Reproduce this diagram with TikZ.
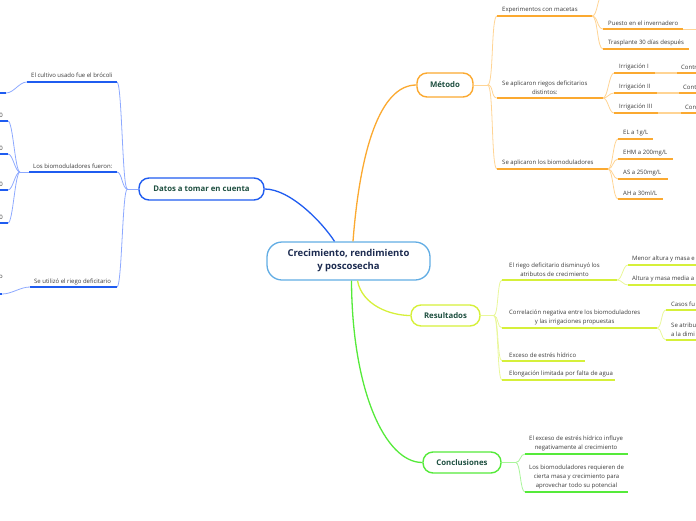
\documentclass[tikz,border=0pt]{standalone}
\usepackage{fontspec}
\setmainfont{Open Sans}
\usetikzlibrary{calc,positioning}
\definecolor{centroline}{HTML}{62ADE4}
\definecolor{centrotext}{HTML}{1C2B50}
\definecolor{topictext}{HTML}{1E4F40}
\definecolor{leaftext}{HTML}{3A3A3A}
\definecolor{datosdark}{HTML}{1F5CF0}
\definecolor{datoslight}{HTML}{8DA9FF}
\definecolor{metododark}{HTML}{FBA930}
\definecolor{metodolight}{HTML}{FFD494}
\definecolor{resdark}{HTML}{D6F03A}
\definecolor{reslight}{HTML}{E9F79A}
\definecolor{concdark}{HTML}{55EA3A}
\definecolor{conclight}{HTML}{A9F59A}

\begin{document}
\begin{tikzpicture}[x=1pt,y=-1pt,
    topic/.style={draw,line width=1.4pt,rounded corners=10pt,fill=white,text=topictext,
      font=\fontsize{7.8}{10}\selectfont\bfseries,inner sep=0pt},
    leaf/.style={anchor=south west,inner sep=0pt,text=leaftext,align=center,
      font=\fontsize{6}{9}\selectfont,yshift=-1.5pt},
    ul/.style={line width=1.6pt},
    cn/.style={line width=0.8pt},
    curv/.style={to path={.. controls ($(\tikztostart)+(#1,0)$) and ($(\tikztotarget)-(#1,0)$) .. (\tikztotarget)}}]
  \path[use as bounding box] (0,0) rectangle (696,520);
  \clip (0,0) rectangle (696,520);

  % central topic and the four main topics
  \node[draw=centroline,line width=1.3pt,rounded corners=15pt,fill=white,text=centrotext,
    font=\fontsize{9.5}{13}\selectfont\bfseries,align=center,inner sep=0pt,
    minimum width=163pt,minimum height=38pt] (centro) at (348.5,261)
    {Crecimiento, rendimiento\\y poscosecha};
  \node[topic,draw=datosdark,minimum width=125pt,minimum height=22pt] (datos) at (201.5,189) {Datos a tomar en cuenta};
  \node[topic,draw=metododark,minimum width=56pt,minimum height=24pt] (metodo) at (445,85) {Método};
  \node[topic,draw=resdark,minimum width=69pt,minimum height=21pt] (res) at (445.5,315.5) {Resultados};
  \node[topic,draw=concdark,minimum width=78pt,minimum height=21pt] (conc) at (462,462.5) {Conclusiones};

  % main connectors
  \coordinate (cDatos) at ($(centro.north)+(-14,0)$);
  \coordinate (cMetodo) at ($(centro.north)+(4.5,0)$);
  \coordinate (cRes) at ($(centro.south)+(9,0)$);
  \coordinate (cConc) at ($(centro.south)+(3,0)$);
  \draw[datosdark,line width=1.3pt] (cDatos) .. controls (322,222) and (290,189) .. (datos.east);
  \draw[metododark,line width=1.3pt] (cMetodo) .. controls (360,150) and (380,85) .. (metodo.west);
  \draw[resdark,line width=1.3pt] (cRes) .. controls (362,305) and (390,315.5) .. (res.west);
  \draw[concdark,line width=1.3pt] (cConc) .. controls (352,390) and (385,462.5) .. (conc.west);

  % ---- Metodo ----
  \draw[cn,metodolight] (metodo.east) -- ++(14,0) coordinate (jMet);
  \coordinate (expA) at (497,16);  \coordinate (expB) at (592,16);
  \coordinate (riegA) at (497,98); \coordinate (riegB) at (603,98);
  \coordinate (bioA) at (497,169); \coordinate (bioB) at (608,169);
  \foreach \nm in {exp,rieg,bio} {
    \draw[cn,metodolight] (jMet) to[curv=6] (\nm A);
    \draw[ul,metododark] (\nm A) -- (\nm B);
  }
  \node[leaf] (exp) at (502,11.5) {Experimentos con macetas};
  \node[leaf] (rieg) at (502,93.5) {Se aplicaron riegos deficitarios\\distintos:};
  \node[leaf] (bio) at (502,164.5) {Se aplicaron los biomoduladores};

  % macetas
  \coordinate (topA) at (603,-5);   \coordinate (topB) at (700,-5);
  \coordinate (puesA) at (603,29);  \coordinate (puesB) at (683,29);
  \coordinate (trasA) at (603,49);  \coordinate (trasB) at (689,49);
  \foreach \nm in {top,pues,tras} {
    \draw[cn,metodolight] (expB) to[curv=6] (\nm A);
    \draw[ul,metododark] (\nm A) -- (\nm B);
  }
  \draw[cn,metodolight] (puesB) -- ++(20,0);
  \node[leaf] (pues) at (608,24.5) {Puesto en el invernadero};
  \node[leaf] (tras) at (608,44.5) {Trasplante 30 días después};

  % irrigaciones
  \foreach \nm/\y/\xe/\xc/\txt/\cut in {irrI/73/655/677/{Irrigación I}/{Contr},
      irrII/93/657/679/{Irrigación II}/{Cont},irrIII/113/658/681/{Irrigación III}/{Con}} {
    \coordinate (\nm A) at (614,\y);
    \coordinate (\nm B) at (\xe,\y);
    \coordinate (\nm C) at (\xc,\y);
    \draw[cn,metodolight] (riegB) to[curv=5] (\nm A);
    \draw[ul,metododark] (\nm A) -- (\nm B);
    \draw[cn,metodolight,line width=1.6pt] (\nm B) -- (\nm C);
    \draw[ul,metododark] (\nm C) -- ++(30,0);
    \node[leaf] (\nm) at (619,\y-4.5) {\txt};
    \node[leaf] (\nm c) at (\xc+4,\y-4.5) {\cut};
  }

  % biomoduladores
  \foreach \nm/\y/\xe/\txt in {el/139/653/{EL a 1g/L},ehm/159/673/{EHM a 200mg/L},
      as/179/668/{AS a 250mg/L},ah/199/663/{AH a 30ml/L}} {
    \coordinate (\nm A) at (618,\y);
    \coordinate (\nm B) at (\xe,\y);
    \draw[cn,metodolight] (bioB) to[curv=5] (\nm A);
    \draw[ul,metododark] (\nm A) -- (\nm B);
    \node[leaf] (\nm) at (623,\y-4.5) {\txt};
  }

  % ---- Resultados ----
  \draw[cn,reslight] (res.east) -- ++(13,0) coordinate (jRes);
  \coordinate (riegoA) at (502,280); \coordinate (riegoB) at (617,280);
  \coordinate (corrA) at (502,328);  \coordinate (corrB) at (657,328);
  \coordinate (excA) at (502,361);   \coordinate (excB) at (585,361);
  \coordinate (elonA) at (502,380);  \coordinate (elonB) at (615,380);
  \foreach \nm in {riego,corr,exc,elon} {
    \draw[cn,reslight] (jRes) to[curv=5] (\nm A);
    \draw[ul,resdark] (\nm A) -- (\nm B);
  }
  \node[leaf] (riego) at (509,275.5) {El riego deficitario disminuyó los\\atributos de crecimiento};
  \node[leaf] (corr) at (509,323.5) {Correlación negativa entre los biomoduladores\\y las irrigaciones propuestas};
  \node[leaf] (exc) at (509,356.5) {Exceso de estrés hídrico};
  \node[leaf] (elon) at (509,375.5) {Elongación limitada por falta de agua};

  \coordinate (menA) at (628,265); \coordinate (altA) at (628,285);
  \coordinate (casA) at (666,310); \coordinate (atrA) at (666,340);
  \foreach \nm/\padre in {men/riegoB,alt/riegoB,cas/corrB,atr/corrB} {
    \draw[cn,reslight] (\padre) to[curv=5] (\nm A);
    \draw[ul,resdark] (\nm A) -- ++(80,0);
  }
  \node[leaf] (men) at (632,260.5) {Menor altura y masa e};
  \node[leaf] (alt) at (632,280.5) {Altura y masa media a};
  \node[leaf] (cas) at (671,305.5) {Casos fu};
  \node[leaf,align=left] (atr) at (671,335.5) {Se atribu\\a la dimi};

  % ---- Conclusiones ----
  \draw[cn,conclight] (conc.east) -- ++(14,0) coordinate (jConc);
  \coordinate (ceA) at (525,454); \coordinate (ceB) at (628,454);
  \coordinate (cbA) at (525,492); \coordinate (cbB) at (628,492);
  \foreach \nm in {ce,cb} {
    \draw[cn,conclight] (jConc) to[curv=5] (\nm A);
    \draw[ul,concdark] (\nm A) -- (\nm B);
  }
  \node[leaf] (ce) at (529,449.5) {El exceso de estrés hídrico influye\\negativamente al crecimiento};
  \node[leaf] (cb) at (529,487.5) {Los biomoduladores requieren de\\cierta masa y crecimiento para\\aprovechar todo su potencial};

  % ---- Datos a tomar en cuenta ----
  \draw[cn,datoslight] (datos.west) -- ++(-11,0) coordinate (jDatos);
  \coordinate (cultA) at (117,82);  \coordinate (cultB) at (27,82);
  \coordinate (biofA) at (117,172); \coordinate (biofB) at (29,172);
  \coordinate (utilA) at (117,287); \coordinate (utilB) at (30,287);
  \foreach \nm in {cult,biof,util} {
    \draw[cn,datoslight] (jDatos) to[curv=-5] (\nm A);
    \draw[ul,datosdark] (\nm A) -- (\nm B);
  }
  \node[leaf] (cult) at (31,76.5) {El cultivo usado fue el brócoli};
  \node[leaf] (biof) at (33,167.5) {Los biomoduladores fueron:};
  \node[leaf] (util) at (34,283.5) {Se utilizó el riego deficitario};

  \coordinate (cultC) at (6,93);
  \draw[cn,datoslight] (cultB) to[curv=-8] (cultC);
  \draw[ul,datosdark] (cultC) -- ++(-20,0);
  \draw[cn,datoslight] (biofB) -- ++(-9,0) coordinate (jBiof);
  \foreach \y in {121,154,190,223} {
    \coordinate (bf\y) at (8,\y);
    \draw[cn,datoslight] (jBiof) to[curv=-5] (bf\y);
    \draw[ul,datosdark] (bf\y) -- ++(-20,0);
    \node[leaf,anchor=south east] at (3,\y-4.5) {0};
  }
  \coordinate (utilC) at (2,294);
  \draw[cn,datoslight] (utilB) to[curv=-10] (utilC);
  \draw[ul,datosdark] (utilC) -- ++(-20,0);
  \node[leaf,anchor=south east] (utilo) at (3,277) {o};
\end{tikzpicture}
\end{document}
